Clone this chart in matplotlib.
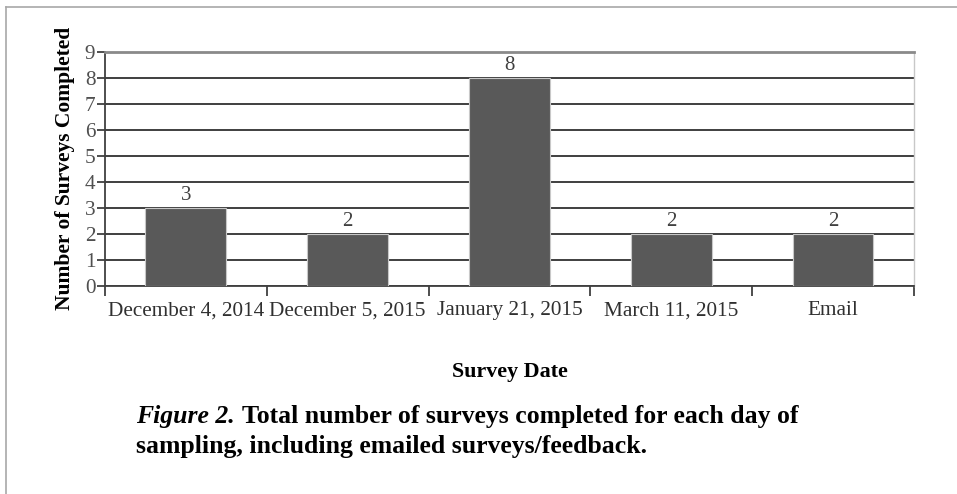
import matplotlib.pyplot as plt
from matplotlib.lines import Line2D
import numpy as np

plt.rcParams['font.family'] = ['Liberation Serif', 'DejaVu Serif']

dates = ['December 4, 2014', 'December 5, 2015', 'January 21, 2015',
         'March 11, 2015', 'Email']
counts = [3, 2, 8, 2, 2]

fig = plt.figure(figsize=(9.57, 4.94), dpi=100)
ax = fig.add_axes([0.1097, 0.422, 0.8453, 0.4727])

x = np.arange(len(dates))
bars = ax.bar(x, counts, width=0.5, color='#595959', edgecolor='#c8c8c8',
              linewidth=0.8, zorder=3)
for b, v in zip(bars, counts):
    ax.text(b.get_x() + b.get_width() / 2, v + 0.1, str(v), ha='center',
            va='bottom', fontsize=15, color='#404040')

ax.set_xlim(-0.5, len(dates) - 0.5)
ax.set_ylim(0, 9)
ax.set_yticks(range(10))
ax.yaxis.grid(True, color='#303030', linewidth=1.3, zorder=1)
ax.set_axisbelow(True)

# category labels sit between the boundary ticks
ax.set_xticks(np.arange(len(dates) + 1) - 0.5)
ax.set_xticklabels([])
ax.set_xticks(x, minor=True)
ax.set_xticklabels(dates, minor=True, va='baseline')
ax.tick_params(axis='x', which='major', direction='out', length=7,
               width=1.3, color='#404040')
ax.tick_params(axis='x', which='minor', length=0, pad=21.5, labelsize=15.3,
               labelcolor='#303030')
ax.tick_params(axis='y', direction='out', length=6, width=1.3,
               color='#404040', labelsize=15.3, labelcolor='#505050', pad=1)

for s in ['left', 'bottom']:
    ax.spines[s].set_color('#404040')
    ax.spines[s].set_linewidth(1.3)
ax.spines['top'].set_color('#8a8a8a')
ax.spines['top'].set_linewidth(2)
ax.spines['right'].set_color('#c8c8c8')
ax.spines['right'].set_linewidth(1)

ax.set_ylabel('Number of Surveys Completed', fontsize=15.5,
              fontweight='bold', labelpad=7)
ax.set_xlabel('Survey Date', fontsize=15.8, fontweight='bold', labelpad=30)

cap = 18.5
fig.text(136 / 957, 1 - 423 / 494, 'Figure 2.', fontsize=cap,
         fontweight='bold', style='italic', va='baseline')
fig.text(242 / 957, 1 - 423 / 494,
         'Total number of surveys completed for each day of',
         fontsize=cap, fontweight='bold', va='baseline')
fig.text(136 / 957, 1 - 453 / 494,
         'sampling, including emailed surveys/feedback.',
         fontsize=cap, fontweight='bold', va='baseline')

# thin page frame along the top and left edges
fig.add_artist(Line2D([6 / 957, 1], [1 - 7 / 494, 1 - 7 / 494],
                      color='#a8a8a8', linewidth=1.2))
fig.add_artist(Line2D([6 / 957, 6 / 957], [0, 1 - 7 / 494],
                      color='#a8a8a8', linewidth=1.2))

fig.savefig('out.png', dpi=100)
